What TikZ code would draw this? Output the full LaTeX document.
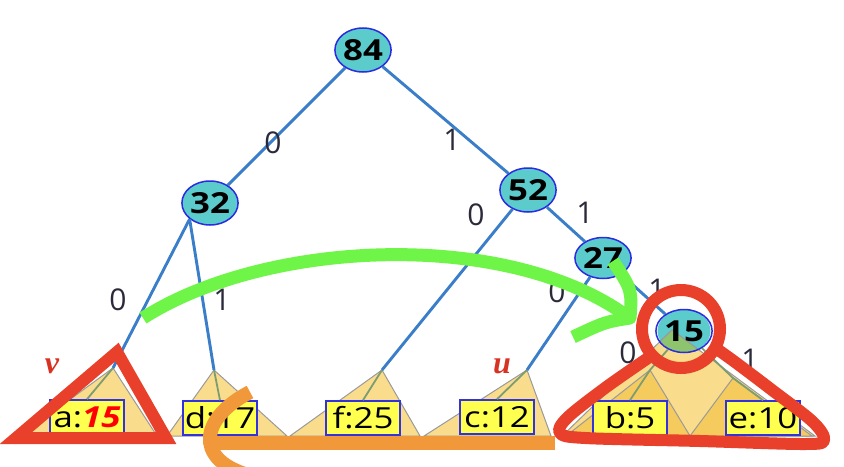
\documentclass[tikz,border=0pt]{standalone}
\usepackage{fontspec}
\setmainfont{Open Sans}
\newfontfamily\widefont[FakeStretch=1.2]{Open Sans}
\newfontfamily\seriffont{Liberation Serif}
\usetikzlibrary{shapes.geometric}
\definecolor{nodecyan}{HTML}{5CCBCB}
\definecolor{nodeblue}{HTML}{2B2BE0}
\definecolor{edgeblue}{HTML}{3A7DC8}
\definecolor{trifill}{HTML}{F9DC8C}
\definecolor{subfill}{HTML}{F5CB5E}
\definecolor{trigray}{HTML}{9A9A9A}
\definecolor{innergreen}{HTML}{7E9C72}
\definecolor{boxyellow}{HTML}{FFFF4F}
\definecolor{boxblue}{HTML}{3333DD}
\definecolor{labelgray}{HTML}{2A2A3A}
\definecolor{penred}{HTML}{E8402A}
\definecolor{pengreen}{HTML}{6EF548}
\definecolor{penorange}{HTML}{F0983A}
\definecolor{greenov}{HTML}{8EC46E}
\definecolor{markred}{HTML}{D83222}
\begin{document}
\begin{tikzpicture}[x=0.5pt,y=-0.5pt,
  ell/.style={ellipse, draw=nodeblue, line width=0.75pt, fill=nodecyan,
    minimum width=28pt, minimum height=22pt, inner sep=0pt,
    font=\widefont\bfseries\fontsize{14.5}{14.5}\selectfont},
  leaf/.style={draw=boxblue, line width=0.8pt, fill=boxyellow,
    minimum width=37pt, minimum height=17pt, inner sep=0pt,
    font=\widefont\fontsize{14.5}{14.5}\selectfont},
  edge/.style={draw=edgeblue, line width=1.45pt},
  innerline/.style={draw=innergreen, line width=0.9pt},
  tri/.style={fill=trifill, draw=trigray, line width=0.5pt},
  subtri/.style={fill=subfill, draw=trigray, line width=0.5pt},
  lbl/.style={font=\fontsize{15}{15}\selectfont, text=labelgray, inner sep=0pt},
  redmark/.style={font=\seriffont\bfseries\itshape\fontsize{16}{16}\selectfont, text=markred, inner sep=0pt},
  redpen/.style={draw=penred, line width=6pt},
  greenpen/.style={draw=pengreen, line width=6.5pt},
  orangepen/.style={draw=penorange, line width=7pt}
]
\useasboundingbox (0,0) rectangle (844,466);

% apex coordinates of the subtree triangles
\coordinate (ta) at (113,368);
\coordinate (td) at (214,370);
\coordinate (tf) at (382,370);
\coordinate (tc) at (527,370);
\coordinate (tb) at (650,370);
\coordinate (te) at (733,378);
\coordinate (tbig) at (672,330);

% leaf triangles
\path[tri] (ta) -- (20,436) -- (157,436) -- cycle;
\path[tri] (td) -- (167,436) -- (287,436) -- cycle;
\path[tri] (tf) -- (290,436) -- (420,436) -- cycle;
\path[tri] (tc) -- (424,436) -- (551,436) -- cycle;

% subtree of 15
\fill[nodecyan] (684,331) ellipse [x radius=26.5, y radius=21.5];
\path[tri] (tbig) -- (562,436) -- (815,436) -- cycle;
\path[subtri] (tb) -- (566,436) -- (690,436) -- cycle;
\path[subtri] (te) -- (690,436) -- (812,436) -- cycle;
\begin{scope}
  \clip (684,331) ellipse [x radius=26.5, y radius=21.5];
  \path[fill=greenov, draw=trigray, line width=0.5pt] (tbig) -- (562,436) -- (815,436) -- cycle;
\end{scope}

% leaves
\node[leaf] (a) at (87,417) {a:\textcolor{red}{\bfseries\itshape 15}};
\node[leaf] (d) at (220,418) {d:17};
\node[leaf] (f) at (363,418) {f:25};
\node[leaf] (c) at (497,417) {c:12};
\node[leaf] (b) at (630,418) {b:5};
\node[leaf] (e) at (763,418) {e:10};

% internal nodes
\node[ell] (n84) at (363,50) {84};
\node[ell] (n32) at (210,203) {32};
\node[ell] (n52) at (528,190) {52};
\node[ell, minimum width=27.5pt, minimum height=20.5pt] (n27) at (603,258) {27};
\node[ell, fill=none, minimum width=26.5pt, minimum height=21.5pt] (n15) at (684,331) {15};

% inner lines inside triangles
\draw[innerline] (ta) -- (a.north);
\draw[innerline] (td) -- (d.north);
\draw[innerline] (tf) -- (f.north);
\draw[innerline] (tc) -- (c.north);
\draw[innerline] (n15) -- (tb) -- (b.north);
\draw[innerline] (n15) -- (te) -- (e.north);

% edges
\draw[edge] (n84) -- (n32);
\draw[edge] (n84) -- (n52);
\draw[edge] (n32.south west) -- (ta);
\draw[edge] (n32.south west) -- (td);
\draw[edge] (n52) -- (tf);
\draw[edge] (n52) -- (n27);
\draw[edge] (n27) -- (tc);
\draw[edge] (n27) -- (n15);

% edge labels
\node[lbl] (l1) at (273,143) {0};
\node[lbl] (l2) at (452,140) {1};
\node[lbl] (l3) at (118,300) {0};
\node[lbl] (l4) at (222,300) {1};
\node[lbl] (l5) at (476,215) {0};
\node[lbl] (l6) at (585,213) {1};
\node[lbl] (l7) at (557,292) {0};
\node[lbl] (l8) at (657,290) {1};
\node[lbl] (l9) at (628,353) {0};
\node[lbl] (l10) at (750,360) {1};

% marks
\node[redmark] (mv) at (52,366) {v};
\node[redmark] (mu) at (502,366) {u};

% hand-drawn annotations
\draw[orangepen] (555,443) -- (213,443);
\draw[orangepen] (250,392) .. controls (200,418) and (195,458) .. (245,474);

\draw[greenpen] (143,318) .. controls (265,240) and (505,228) .. (627,316);
\draw[greenpen, line join=round] (613,261) .. controls (632,290) .. (630,318) .. controls (605,322) .. (573,337);

\draw[redpen, line join=miter] (117,352) -- (16,438) -- (166,438) -- cycle;
\draw[redpen] (681,329) circle [radius=39];
\draw[redpen, line join=round] plot[smooth, tension=0.55] coordinates {(648,358) (605,388) (567,418) (560,433) (585,438) (700,441) (805,444) (824,440) (813,422) (772,390) (735,362) (714,347)};
\end{tikzpicture}
\end{document}
